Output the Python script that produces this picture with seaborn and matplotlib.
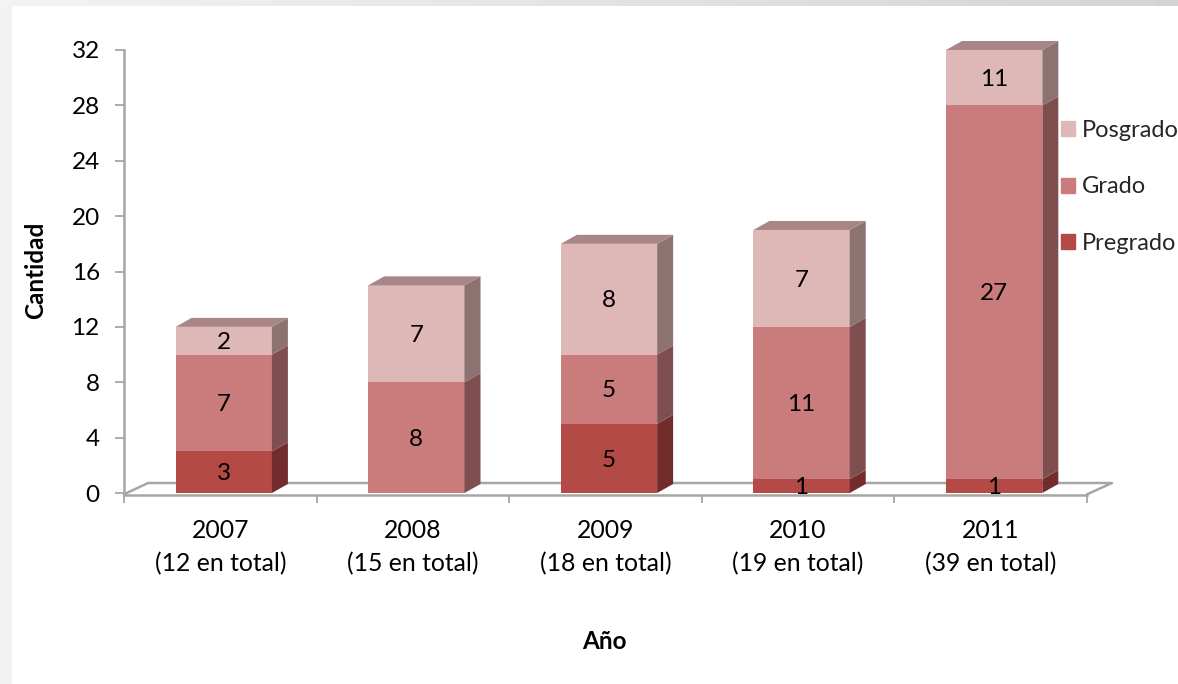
import numpy as np
import pandas as pd
import seaborn as sns
import matplotlib.pyplot as plt
from matplotlib.patches import Patch

# Values
anios = ['2007', '2008', '2009', '2010', '2011']
totales = [12, 15, 18, 19, 39]
pregrado = [3, 0, 5, 1, 1]
grado = [7, 8, 5, 11, 27]
posgrado = [2, 7, 8, 7, 11]

y_ticks = [0, 4, 8, 12, 16, 20, 24, 28, 32]

df = pd.DataFrame({'anio': anios, 'pregrado': pregrado, 'grado': grado, 'posgrado': posgrado})

sns.set_style('white')
plt.rcParams['font.family'] = ['Lato', 'DejaVu Sans']

W, H = 1178, 684
fig = plt.figure(figsize=(W / 100, H / 100), dpi=100, facecolor='white')

# grey page edges behind the chart
strip = fig.add_axes([0, 1 - 6 / H, 1, 6 / H])
strip.imshow(np.linspace(0.95, 0.83, 256).reshape(1, -1), cmap='gray', vmin=0, vmax=1, aspect='auto')
strip.axis('off')
side = fig.add_axes([0, 0, 12 / W, 1 - 6 / H])
side.set_facecolor('#f1f1f1')
side.set_xticks([])
side.set_yticks([])
sns.despine(ax=side, left=True, bottom=True)

ax = fig.add_axes([124 / W, 1 - 493 / H, (1087 - 124) / W, (493 - 50) / H])
ax.patch.set_alpha(0)

# stacked bars
bar_kws = dict(saturation=1, width=0.5, errorbar=None, zorder=2, linewidth=0, ax=ax)
sns.barplot(data=df, x='anio', y='pregrado', color='#b44a46', **bar_kws)
sns.barplot(data=df, x='anio', y='grado', bottom=df['pregrado'], color='#c97c7b', **bar_kws)
sns.barplot(data=df, x='anio', y='posgrado', bottom=df['pregrado'] + df['grado'], color='#deb8b7', **bar_kws)

ax.set_xlim(-0.518, 4.482)
ax.set_ylim(0, 32)

# fake 3d sides and tops, depth is 16px right and 9px up
dx = 16 / (963 / 5)
dy = 9 / (443 / 32)
side_colors = ['#722c2c', '#7f4f4f', '#8c7372']
for container, c in zip(ax.containers, side_colors):
    for bar in container:
        x0 = bar.get_x()
        x1 = x0 + bar.get_width()
        y0 = bar.get_y()
        y1 = min(y0 + bar.get_height(), 32)
        if y1 <= y0:
            continue
        ax.fill([x1, x1 + dx, x1 + dx, x1], [y0, y0 + dy, y1 + dy, y1], color=c, lw=0, zorder=2, clip_on=False)
for bar in ax.containers[2]:
    x0 = bar.get_x()
    x1 = x0 + bar.get_width()
    y1 = min(bar.get_y() + bar.get_height(), 32)
    ax.fill([x0, x0 + dx, x1 + dx, x1], [y1, y1 + dy, y1 + dy, y1], color='#a98686', lw=0, zorder=2, clip_on=False)

# value labels, centred on the visible part of each segment
for container, values in zip(ax.containers, [pregrado, grado, posgrado]):
    for bar, v in zip(container, values):
        if v == 0:
            continue
        y0 = bar.get_y()
        y1 = min(y0 + bar.get_height(), 32)
        ax.annotate(str(v), (bar.get_x() + bar.get_width() / 2, (y0 + y1) / 2), xytext=(0, -1.2),
                    textcoords='offset points', ha='center', va='center', fontsize=17.5, color='black', zorder=5)

# floor of the 3d box
grey = '#a6a6a6'
fx = 24 / 963
fy = 10 / 443
ax.plot([0, fx, 1 + fx + 0.001, 1], [-0.003, fy, fy, -0.003], transform=ax.transAxes, color=grey, lw=1.8,
        clip_on=False, zorder=1)

# axes
sns.despine(ax=ax, top=True, right=True)
for s in ['left', 'bottom']:
    ax.spines[s].set_color(grey)
    ax.spines[s].set_linewidth(1.8)
ax.spines['bottom'].set_position(('outward', 1.2))

ax.set_yticks(y_ticks)
ax.tick_params(axis='y', left=True, length=6.5, width=1.3, color=grey, labelsize=17.5, pad=11, labelcolor='black')

centres = np.arange(len(anios)) - 0.018
ax.set_xticks(centres)
ax.set_xticklabels([f'{a}\n({t} en total)' for a, t in zip(anios, totales)], linespacing=1.52)
ax.tick_params(axis='x', which='major', bottom=False, length=0, labelsize=17.8, pad=17.5, labelcolor='black')
ax.set_xticks(np.arange(6) - 0.518, minor=True)
ax.tick_params(axis='x', which='minor', bottom=True, length=6, width=1.3, color=grey)

ax.set_xlabel('Año', fontsize=17.5, fontweight='bold', color='black')
ax.set_ylabel('Cantidad', fontsize=17.5, fontweight='bold', color='black')
ax.xaxis.set_label_coords((604 - 124) / 963, -(630 - 493) / 443)
ax.yaxis.set_label_coords((47 - 124) / 963, (493 - 270) / 443)

# legend
handles = [Patch(color='#deb8b7', label='Posgrado'), Patch(color='#c97c7b', label='Grado'),
           Patch(color='#b44a46', label='Pregrado')]
ax.legend(handles=handles, loc='upper left', bbox_to_anchor=(1061 / W, 1 - 120 / H), bbox_transform=fig.transFigure,
          frameon=False, fontsize=17, handlelength=0.6, handleheight=0.6, handletextpad=0.3,
          labelspacing=1.5, borderpad=0, borderaxespad=0)

plt.savefig('out.png', dpi=100)
